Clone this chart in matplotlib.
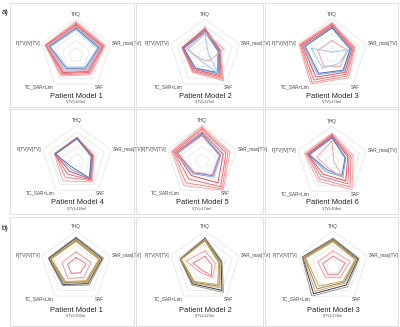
import numpy as np
import matplotlib.pyplot as plt
from matplotlib.patches import Rectangle

## axis names (clockwise from top)
axis_names = ["THQ", "SAR_max[TV]", "SAF", "TC_SAR<Lim", "P[TV]/V[TV]"]

## panel titles
titles = ["Patient Model 1", "Patient Model 2", "Patient Model 3",
          "Patient Model 4", "Patient Model 5", "Patient Model 6",
          "Patient Model 1", "Patient Model 2", "Patient Model 3"]
subtitles = ["V(TV)=500ml", "V(TV)=127ml", "V(TV)=172ml",
             "V(TV)=120ml", "V(TV)=179ml", "V(TV)=104ml",
             "V(TV)=500ml", "V(TV)=127ml", "V(TV)=172ml"]

## values: THQ, SAR_max, SAF, TC_SAR, P/V  (one row per series)
pm1_a = [[0.93, 0.86, 0.68, 0.72, 0.91],
         [0.89, 0.82, 0.64, 0.68, 0.89],
         [0.85, 0.79, 0.60, 0.64, 0.87],
         [0.82, 0.76, 0.56, 0.60, 0.85],
         [0.78, 0.70, 0.50, 0.52, 0.80],
         [0.74, 0.66, 0.45, 0.46, 0.77],
         [0.80, 0.74, 0.54, 0.56, 0.84],
         [0.70, 0.63, 0.42, 0.42, 0.74]]
pm2_a = [[0.76, 0.46, 0.88, 0.60, 0.68],
         [0.74, 0.44, 0.82, 0.57, 0.67],
         [0.72, 0.43, 0.76, 0.54, 0.66],
         [0.70, 0.42, 0.70, 0.50, 0.65],
         [0.67, 0.40, 0.64, 0.47, 0.63],
         [0.64, 0.38, 0.60, 0.45, 0.62],
         [0.62, 0.55, 0.20, 0.15, 0.55],
         [0.58, 0.10, 0.62, 0.20, 0.50]]
pm3_a = [[0.90, 0.68, 0.78, 1.00, 0.96],
         [0.87, 0.65, 0.72, 0.94, 0.93],
         [0.84, 0.62, 0.66, 0.86, 0.90],
         [0.80, 0.58, 0.60, 0.76, 0.86],
         [0.77, 0.55, 0.55, 0.68, 0.82],
         [0.75, 0.53, 0.52, 0.63, 0.78],
         [0.40, 0.45, 0.40, 0.38, 0.42],
         [0.08, 0.50, 0.30, 0.45, 0.60]]
pm4_a = [[0.66, 0.50, 0.72, 0.68, 0.66],
         [0.65, 0.48, 0.68, 0.55, 0.65],
         [0.64, 0.46, 0.65, 0.45, 0.65],
         [0.63, 0.44, 0.62, 0.35, 0.64],
         [0.62, 0.42, 0.60, 0.28, 0.64],
         [0.62, 0.42, 0.58, 0.22, 0.63]]
pm5_a = [[0.97, 0.82, 1.00, 0.85, 0.90],
         [0.92, 0.76, 0.95, 0.75, 0.86],
         [0.88, 0.70, 0.88, 0.62, 0.82],
         [0.80, 0.62, 0.75, 0.50, 0.77],
         [0.76, 0.55, 0.55, 0.44, 0.73],
         [0.73, 0.52, 0.50, 0.40, 0.71],
         [0.70, 0.50, 0.47, 0.38, 0.70]]
pm6_a = [[0.80, 0.62, 0.95, 0.66, 0.80],
         [0.77, 0.55, 0.86, 0.58, 0.75],
         [0.74, 0.50, 0.75, 0.50, 0.72],
         [0.72, 0.46, 0.65, 0.42, 0.70],
         [0.69, 0.40, 0.52, 0.32, 0.67],
         [0.67, 0.38, 0.47, 0.26, 0.66],
         [0.58, 0.05, 0.55, 0.20, 0.45]]
pm1_b = [[0.83, 0.80, 0.62, 0.64, 0.81],
         [0.80, 0.76, 0.57, 0.60, 0.79],
         [0.77, 0.73, 0.53, 0.56, 0.76],
         [0.74, 0.70, 0.50, 0.53, 0.74],
         [0.71, 0.67, 0.47, 0.50, 0.72],
         [0.42, 0.44, 0.36, 0.39, 0.41],
         [0.26, 0.30, 0.20, 0.22, 0.25]]
pm2_b = [[0.81, 0.50, 0.87, 0.62, 0.73],
         [0.78, 0.47, 0.80, 0.58, 0.72],
         [0.76, 0.44, 0.72, 0.55, 0.71],
         [0.74, 0.42, 0.66, 0.52, 0.70],
         [0.72, 0.40, 0.60, 0.50, 0.69],
         [0.45, 0.30, 0.35, 0.20, 0.55],
         [0.30, 0.20, 0.30, 0.12, 0.35]]
pm3_b = [[0.80, 0.76, 0.68, 1.00, 0.90],
         [0.77, 0.73, 0.62, 0.92, 0.88],
         [0.75, 0.70, 0.56, 0.84, 0.86],
         [0.73, 0.68, 0.52, 0.75, 0.83],
         [0.70, 0.65, 0.48, 0.66, 0.80],
         [0.45, 0.50, 0.35, 0.35, 0.45],
         [0.30, 0.35, 0.25, 0.25, 0.30]]

panel_data = [pm1_a, pm2_a, pm3_a, pm4_a, pm5_a, pm6_a, pm1_b, pm2_b, pm3_b]

## line colours for the two parts
colors_a = ["#f7a8a8", "#f28a8c", "#ec6c72", "#e04f5a", "#86a8dc", "#4f74bd", "#f4a4a8", "#a3c4ea"]
colors_b = ["#9a9a9a", "#404040", "#d0a878", "#9c8256", "#c2a844", "#f3a0a0", "#ec7a7e"]

W, H = 400, 327
fig = plt.figure(figsize=(W / 100, H / 100), dpi=100)

## panel frames (pixels: x0, y0, x1, y1)
frames = [(10, 3, 134, 107), (136, 3, 263, 107), (265, 3, 398, 107),
          (10, 109, 134, 214), (136, 109, 263, 214), (265, 109, 398, 214),
          (10, 217, 134, 326), (136, 217, 263, 326), (265, 217, 398, 326)]
for x0, y0, x1, y1 in frames:
    fig.patches.append(Rectangle((x0 / W, 1 - y1 / H), (x1 - x0) / W, (y1 - y0) / H,
                                 transform=fig.transFigure, fill=False,
                                 edgecolor="#d9d9d9", lw=0.6))

centers = [(76, 55), (205, 55), (332, 55),
           (77, 161), (202, 161), (332, 162),
           (76, 267), (205, 267), (333, 267)]
title_y = [96, 96, 96, 203, 203, 203, 310, 310, 310]
R = 36

angles = np.linspace(0, 2 * np.pi, 5, endpoint=False)
closed = np.append(angles, angles[0])

for i, (cx, cy) in enumerate(centers):
    ax = fig.add_axes([(cx - R) / W, 1 - (cy + R) / H, 2 * R / W, 2 * R / H], projection="polar")
    ax.set_theta_offset(np.pi / 2)
    ax.set_theta_direction(-1)
    ax.set_ylim(0, 1)
    ax.grid(False)
    ax.spines["polar"].set_visible(False)
    ax.set_xticks([])
    ax.set_yticks([])
    ax.patch.set_alpha(0)

    ## pentagon grid
    for lev in [0.2, 0.4, 0.6, 0.8, 1.0]:
        ax.plot(closed, [lev] * 6, color="#e3e3e3", lw=0.5, zorder=1)

    cols = colors_a if i < 6 else colors_b
    for j, vals in enumerate(panel_data[i]):
        v = list(vals) + [vals[0]]
        ax.plot(closed, v, color=cols[j % len(cols)], lw=0.7, zorder=2)

    ## axis labels
    lab_kw = dict(fontsize=3.3, color="#404040", family="Liberation Sans")
    ax.text(angles[0], 1.12, axis_names[0], ha="center", va="center", **lab_kw)
    ax.text(angles[1], 1.04, axis_names[1], ha="left", va="center", **lab_kw)
    ax.text(angles[2], 1.12, axis_names[2], ha="center", va="center", **lab_kw)
    ax.text(angles[3], 1.08, axis_names[3], ha="right", va="center", **lab_kw)
    ax.text(angles[4], 1.05, axis_names[4], ha="right", va="center", **lab_kw)

    fig.text(cx / W, 1 - title_y[i] / H, titles[i], ha="center", va="center",
             fontsize=5.4, color="#222222", family="Liberation Sans")
    fig.text(cx / W, 1 - (title_y[i] + 6) / H, subtitles[i], ha="center", va="center",
             fontsize=2.4, color="#404040", family="Liberation Sans")

fig.text(2 / W, 1 - 12 / H, "a)", fontsize=5.5, ha="left", va="center", family="Liberation Sans")
fig.text(2 / W, 1 - 228 / H, "b)", fontsize=5.5, ha="left", va="center", family="Liberation Sans")

fig.savefig("out.png", dpi=100)
